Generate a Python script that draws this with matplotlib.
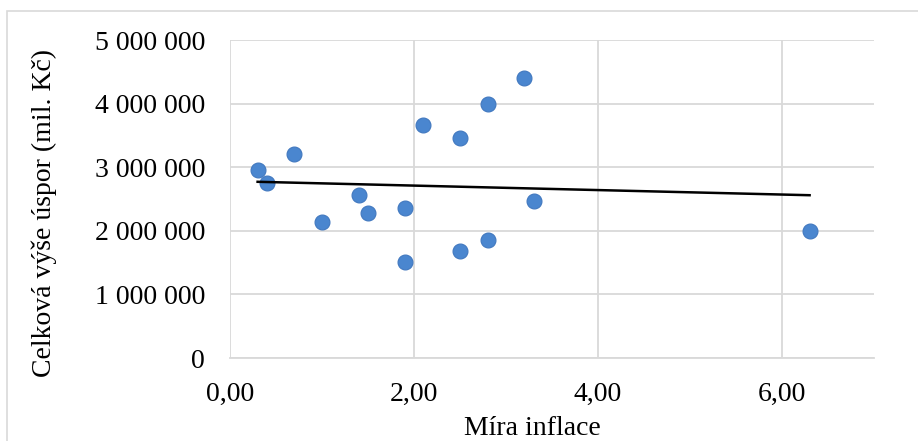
import numpy as np
import matplotlib
matplotlib.use("Agg")
import matplotlib.pyplot as plt
from matplotlib.ticker import FuncFormatter
from matplotlib.patches import Rectangle

inflation = [0.3, 0.4, 0.7, 1.0, 1.4, 1.5, 1.9, 1.9, 2.1, 2.5, 2.5, 2.8, 2.8, 3.2, 3.3, 6.3]
savings = [2950000, 2750000, 3210000, 2140000, 2560000, 2280000, 2360000, 1510000,
           3660000, 3460000, 1680000, 3990000, 1860000, 4400000, 2470000, 2000000]
x_ticks = [0, 2, 4, 6]
y_ticks = [0, 1000000, 2000000, 3000000, 4000000, 5000000]

plt.rcParams['font.family'] = ['Liberation Serif', 'DejaVu Serif']

fig = plt.figure(figsize=(9.18, 4.41), dpi=100)
W, H = 918, 441
ax = fig.add_axes([230 / W, 1 - 358 / H, (874 - 230) / W, (358 - 40) / H])

# outer chart border
fig.patches.append(Rectangle((7 / W, -0.1), 1.2, 1 - 11 / H + 0.1, transform=fig.transFigure,
                             fill=False, edgecolor='#d9d9d9', linewidth=1.2))

ax.scatter(inflation, savings, s=115, color='#4a86cf', edgecolors='#4178bf', linewidths=0.8, zorder=3)

coef = np.polyfit(inflation, savings, 1)
xs = np.array([min(inflation), max(inflation)])
ax.plot(xs, np.polyval(coef, xs), color='black', linewidth=1.8, zorder=4)

ax.set_xlim(0, 7)
ax.set_ylim(0, 5000000)
ax.set_xticks(x_ticks)
ax.set_yticks(y_ticks)
ax.xaxis.set_major_formatter(FuncFormatter(lambda v, p: f"{v:.2f}".replace('.', ',')))
ax.yaxis.set_major_formatter(FuncFormatter(lambda v, p: f"{int(v):,}".replace(',', ' ')))
ax.grid(True, color='#d9d9d9', linewidth=1.3)
ax.set_axisbelow(True)
for side in ['top', 'right', 'left']:
    ax.spines[side].set_visible(False)
ax.spines['bottom'].set_color('#d9d9d9')
ax.spines['bottom'].set_linewidth(1.3)
ax.tick_params(length=0, labelsize=20, colors='black')
ax.tick_params(axis='x', pad=17)
ax.tick_params(axis='y', pad=18)

ax.set_xlabel('Míra inflace', fontsize=20)
ax.set_ylabel('Celková výše úspor (mil. Kč)', fontsize=20)
ax.xaxis.set_label_coords(0.469, -0.183)
ax.yaxis.set_label_coords(-0.269, 0.456)

fig.savefig('out.png', dpi=100)
